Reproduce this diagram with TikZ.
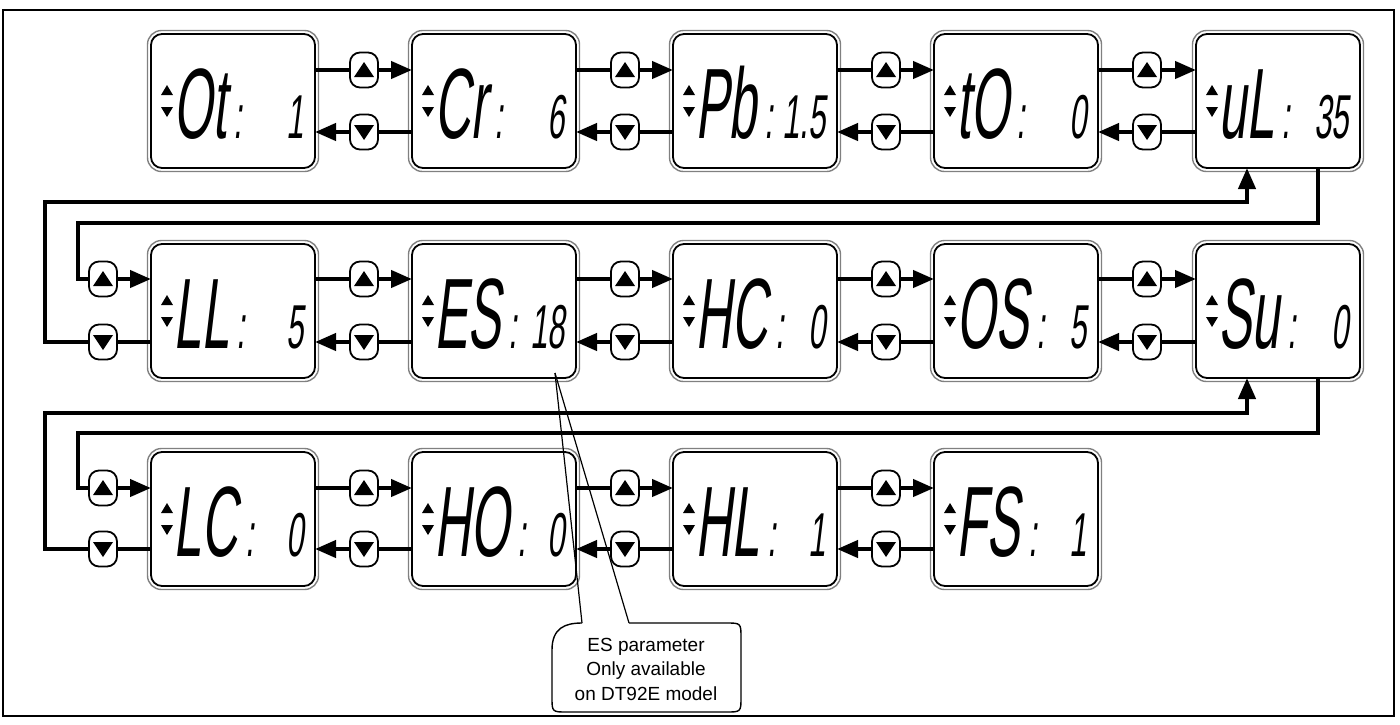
\documentclass[tikz,border=0pt]{standalone}
\usepackage{fontspec}
\setmainfont{Liberation Sans}
\newfontfamily\lcdfont[FakeStretch=0.5,FakeSlant=0.12]{Liberation Sans}
\usetikzlibrary{arrows.meta,calc}
\tikzset{
 lcdbox/.style={draw=black, line width=1.8pt, rounded corners=11pt, minimum width=164pt, minimum height=134pt, inner sep=0pt, outer sep=0pt, fill=white},
 lcdring/.style={draw=black!50, line width=1.4pt, rounded corners=14pt},
 lcdname/.style={inner sep=0pt, font=\lcdfont\fontsize{100}{100}\selectfont},
 lcdval/.style={inner sep=0pt, font=\lcdfont\fontsize{62}{62}\selectfont},
 btn/.style={draw=black, line width=1.8pt, fill=white, rounded corners=10pt, minimum width=28pt, minimum height=35pt, inner sep=0pt, outer sep=0pt},
 conn/.style={line width=4.2pt},
 arr/.style={-{Triangle[length=21pt,width=17pt]}},
 callout/.style={line width=1.4pt},
 pointer/.style={line width=1.2pt},
 notetext/.style={align=center, inner sep=0pt, font=\fontsize{19}{24.5}\selectfont},
}
\newcommand\smallcolon{\hspace{8pt}{\fontsize{62}{62}\selectfont:}}
\newcommand\lcdunit[5]{%
 \node[lcdbox] (#1) at (#2,#3) {};
 \draw[lcdring] ($(#1.north west)+(-3.5,-3.5)$) rectangle ($(#1.south east)+(3.5,3.5)$);
 \fill ($(#1.west)+(10,-6)$) -- ++(12,0) -- ++(-6,-10) -- cycle;
 \fill ($(#1.west)+(10,6)$) -- ++(12,0) -- ++(-6,10) -- cycle;
 \node[lcdname, anchor=base west] (#1n) at ($(#1.west)+(22,37)$) {#4\smallcolon};
 \node[lcdval, anchor=base east] (#1v) at ($(#1.east)+(-11,37)$) {#5};
}
\newcommand\btnup[3]{%
 \node[btn] (#1) at (#2,#3) {};
 \fill ($(#1.center)+(-10,7)$) -- ++(20,0) -- ++(-10,-15) -- cycle;
}
\newcommand\btndn[3]{%
 \node[btn] (#1) at (#2,#3) {};
 \fill ($(#1.center)+(-10,-7)$) -- ++(20,0) -- ++(-10,15) -- cycle;
}
\newcommand\linkpair[4]{% left box, right box, up button, down button
 \draw[conn] (#1.east |- #3) -- (#3);
 \draw[conn,arr] (#3) -- (#2.west |- #3);
 \draw[conn] (#2.west |- #4) -- (#4);
 \draw[conn,arr] (#4) -- (#1.east |- #4);
}
\begin{document}
\begin{tikzpicture}[x=1pt,y=-1pt]
\useasboundingbox (0,0) rectangle (1400,724);
\draw[line width=2pt] (3,10) rectangle (1394,716);
% row 1
\lcdunit{b1}{233}{101}{Ot}{1}
\lcdunit{b2}{494}{101}{Cr}{6}
\lcdunit{b3}{755}{101}{Pb}{1.5}
\lcdunit{b4}{1016}{101}{tO}{0}
\lcdunit{b5}{1278}{101}{uL}{35}
% row 2
\lcdunit{b6}{233}{311}{LL}{5}
\lcdunit{b7}{494}{311}{ES}{18}
\lcdunit{b8}{755}{311}{HC}{0}
\lcdunit{b9}{1016}{311}{OS}{5}
\lcdunit{b10}{1278}{311}{Su}{0}
% row 3
\lcdunit{b11}{233}{519}{LC}{0}
\lcdunit{b12}{494}{519}{HO}{0}
\lcdunit{b13}{755}{519}{HL}{1}
\lcdunit{b14}{1016}{519}{FS}{1}
% buttons row 1
\btnup{u1}{364}{70}\btndn{d1}{364}{132}
\btnup{u2}{625}{70}\btndn{d2}{625}{132}
\btnup{u3}{886}{70}\btndn{d3}{886}{132}
\btnup{u4}{1147}{70}\btndn{d4}{1147}{132}
% buttons row 2
\btnup{u5}{103}{279}\btndn{d5}{103}{342}
\btnup{u6}{364}{279}\btndn{d6}{364}{342}
\btnup{u7}{625}{279}\btndn{d7}{625}{342}
\btnup{u8}{886}{279}\btndn{d8}{886}{342}
\btnup{u9}{1147}{279}\btndn{d9}{1147}{342}
% buttons row 3
\btnup{u10}{103}{488}\btndn{d10}{103}{549}
\btnup{u11}{364}{488}\btndn{d11}{364}{549}
\btnup{u12}{625}{488}\btndn{d12}{625}{549}
\btnup{u13}{886}{488}\btndn{d13}{886}{549}
% links within rows
\linkpair{b1}{b2}{u1}{d1}
\linkpair{b2}{b3}{u2}{d2}
\linkpair{b3}{b4}{u3}{d3}
\linkpair{b4}{b5}{u4}{d4}
\linkpair{b6}{b7}{u6}{d6}
\linkpair{b7}{b8}{u7}{d7}
\linkpair{b8}{b9}{u8}{d8}
\linkpair{b9}{b10}{u9}{d9}
\linkpair{b11}{b12}{u11}{d11}
\linkpair{b12}{b13}{u12}{d12}
\linkpair{b13}{b14}{u13}{d13}
% wrap row 1 -> row 2
\coordinate (w1a) at ($(b5.south)+(40,0)$);
\coordinate (w1b) at ($(b5.south)+(-31,0)$);
\coordinate (lx1) at (78,223);
\coordinate (ox1) at (45,202);
\draw[conn] (w1a) |- (lx1) |- (u5.west);
\draw[conn,arr] (u5) -- (b6.west |- u5);
\draw[conn] (b6.west |- d5) -- (d5);
\draw[conn,arr] (d5.west) -| (ox1) -| (w1b);
% wrap row 2 -> row 3
\coordinate (w2a) at ($(b10.south)+(40,0)$);
\coordinate (w2b) at ($(b10.south)+(-31,0)$);
\coordinate (lx2) at (78,433);
\coordinate (ox2) at (45,413);
\draw[conn] (w2a) |- (lx2) |- (u10.west);
\draw[conn,arr] (u10) -- (b11.west |- u10);
\draw[conn] (b11.west |- d10) -- (d10);
\draw[conn,arr] (d10.west) -| (ox2) -| (w2b);
% callout
\coordinate (esp) at ($(b7.south)+(61,-5)$);
\coordinate (ca) at (582,623);
\coordinate (cb) at (629,623);
\draw[callout] (cb) -- (726,623) .. controls (741,623) .. (741,638) -- (741,697) .. controls (741,712) .. (726,712) -- (567,712) .. controls (552,712) .. (552,697) -- (552,650) .. controls (552,628) and (565,623) .. (ca);
\draw[pointer] (esp) -- (ca);
\draw[pointer] (esp) -- (cb);
\node[notetext] (note) at (646,669) {ES parameter\\Only available\\on DT92E model};
\end{tikzpicture}
\end{document}
